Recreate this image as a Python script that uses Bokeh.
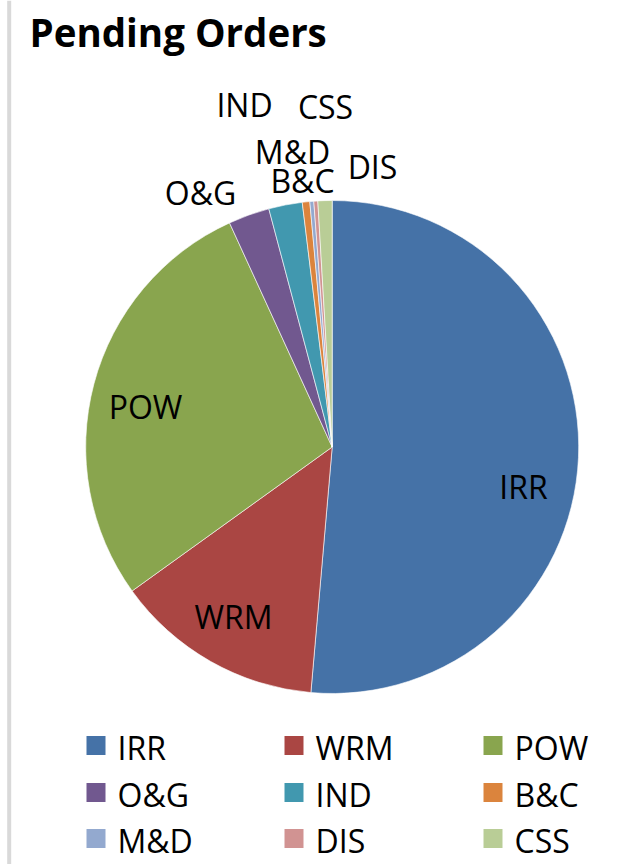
import numpy as np
from bokeh.plotting import figure
from bokeh.models import Range1d, ColumnDataSource
from bokeh.core.properties import value
from bokeh.embed import file_html
from bokeh.resources import INLINE

# ---- data ----
categories = ["IRR", "WRM", "POW", "O&G", "IND", "B&C", "M&D", "DIS", "CSS"]
shares = [51.4, 13.7, 28.1, 2.7, 2.2, 0.49, 0.26, 0.26, 0.93]
colors = ["#4572A7", "#AA4643", "#89A54E", "#71588F", "#4198AF",
          "#DB843D", "#93A9CF", "#D19392", "#B9CD96"]
title = "Pending Orders"

# ---- layout (screen pixel coordinates) ----
W, H = 637, 864
cx, cy, R = 331.7, 446.5, 246.5
label_pos = {
    "IRR": (523, 486), "WRM": (233, 616), "POW": (145, 406),
    "O&G": (200, 192), "IND": (244, 104), "B&C": (302, 180),
    "M&D": (292, 151), "DIS": (372, 166), "CSS": (325, 106),
}
leg_cols = [86, 284, 483]
leg_rows = [745, 792, 838]
FONT = "Open Sans"
FS = "32px"

p = figure(width=W, height=H, x_range=Range1d(0, W), y_range=Range1d(-H, 0),
           output_backend="svg", toolbar_location=None, min_border=0,
           x_axis_location=None, y_axis_location=None)
p.grid.visible = False
p.outline_line_color = None
p.background_fill_color = "white"
p.border_fill_color = "white"

# left border line of the chart area
p.segment(x0=[8.7], y0=[0], x1=[8.7], y1=[-H], line_color="#d9d9d9", line_width=4)

frac = np.array(shares, dtype=float)
frac = frac / frac.sum()
cum = np.cumsum(frac)
start = np.pi / 2 - 2 * np.pi * (cum - frac)
end = np.pi / 2 - 2 * np.pi * cum

src = ColumnDataSource(dict(cat=categories, start=start, end=end, color=colors,
                            lx=[label_pos[c][0] for c in categories],
                            ly=[-label_pos[c][1] for c in categories]))
p.wedge(x=cx, y=-cy, radius=R, start_angle="start", end_angle="end", direction="clock",
        fill_color="color", line_color="white", line_width=0.6, source=src)

p.text(x="lx", y="ly", text="cat", source=src, text_font=value(FONT), text_font_size=FS,
       text_align="center", text_baseline="middle", text_color="black")

# title
p.text(x=[29], y=[-31], text=[title], text_font=value(FONT), text_font_size="38.5px",
       text_font_style="bold", text_align="left", text_baseline="middle", text_color="black")

# legend
lx, ly = [], []
for i, c in enumerate(categories):
    lx.append(leg_cols[i % 3])
    ly.append(-leg_rows[i // 3])
lsrc = ColumnDataSource(dict(x=np.array(lx) + 9.5, y=ly, tx=np.array(lx) + 31,
                             ty=np.array(ly) - 2, cat=categories, color=colors))
p.rect(x="x", y="y", width=19, height=19, fill_color="color", line_color=None, source=lsrc)
p.text(x="tx", y="ty", text="cat", source=lsrc, text_font=value(FONT), text_font_size=FS,
       text_align="left", text_baseline="middle", text_color="black")

open("out.html", "w").write(file_html(p, INLINE))
